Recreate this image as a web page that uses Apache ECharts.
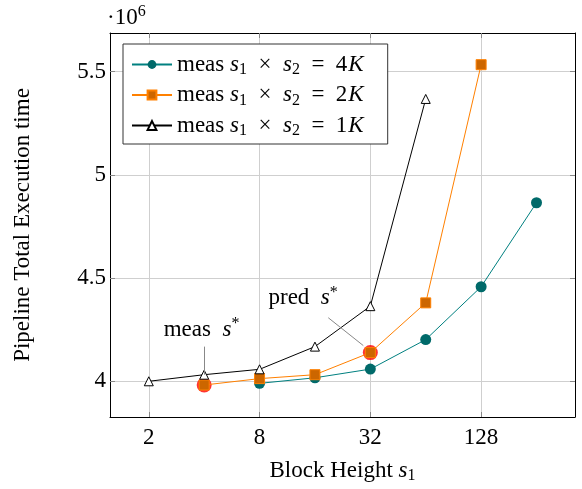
<!DOCTYPE html>
<html><head><meta charset="utf-8">
<script src="https://cdn.jsdelivr.net/npm/echarts@6/dist/echarts.min.js"></script>
<style>html,body{margin:0;padding:0;background:#fff}#c{width:582px;height:489px}</style>
</head><body><div id="c"></div>
<script>
// ---- data ----
const blockHeights4K = [8, 16, 32, 64, 128, 256];
const time4K = [3.990e6, 4.017e6, 4.059e6, 4.202e6, 4.458e6, 4.865e6];
const blockHeights2K = [4, 8, 16, 32, 64, 128];
const time2K = [3.982e6, 4.013e6, 4.032e6, 4.139e6, 4.380e6, 5.534e6];
const blockHeights1K = [2, 4, 8, 16, 32, 64];
const time1K = [4.000e6, 4.032e6, 4.058e6, 4.168e6, 4.364e6, 5.368e6];
const optimumX = [4, 32];          // meas s*, pred s*
const optimumY = [3.982e6, 4.139e6];
const xTickValues = [2, 8, 32, 128];
const yTickValues = [4.0e6, 4.5e6, 5.0e6, 5.5e6];
const seriesNames = ['4K', '2K', '1K'];
// annotation anchors (data coordinates)
const measLine = [[4, 4.168e6], [4, 4.032e6]];
const predLine = [[18.9, 4.308e6], [29.3, 4.173e6]];
const measText = [3.87, 4.25e6];
const predText = [13.8, 4.404e6];

const zip = (xs, ys) => xs.map((x, i) => [x, ys[i]]);
const FONT = 'Liberation Serif';
const FS = 23;
const rich = {
  n: {fontFamily: FONT, fontSize: FS, color: '#000'},
  i: {fontFamily: FONT, fontSize: FS, fontStyle: 'italic', color: '#000'},
  k: {fontFamily: FONT, fontSize: FS, fontStyle: 'italic', color: '#000', padding: [0, 3, 0, 1]},
  sub: {fontFamily: FONT, fontSize: 16, color: '#000', padding: [11, 0, 0, 0]},
  sup: {fontFamily: FONT, fontSize: 16, color: '#000', padding: [0, 0, 11, 0]}
};

const XMIN = 1.231, XMAX = 414.4, YMIN = 3.827e6, YMAX = 5.6875e6;
const tickStyle = {show: true, inside: true, length: 5, lineStyle: {color: '#888'}};

const chart = echarts.init(document.getElementById('c'), null, {renderer: 'canvas'});
chart.setOption({
  animation: false,
  backgroundColor: '#fff',
  grid: {left: 110, right: 7, top: 33, bottom: 69},
  xAxis: [{
    type: 'log', logBase: 2, min: XMIN, max: XMAX,
    name: '{n|Block Height }{i|s}{sub|1}', nameLocation: 'middle', nameGap: 40,
    nameTextStyle: {rich},
    axisLine: {show: true, lineStyle: {color: '#000', width: 1}},
    axisTick: Object.assign({customValues: xTickValues}, tickStyle),
    axisLabel: {customValues: xTickValues, fontFamily: FONT, fontSize: FS, color: '#000', margin: 9},
    splitLine: {show: true, lineStyle: {color: '#cfcfcf', width: 1}},
    minorTick: {show: false}
  }, {
    type: 'log', logBase: 2, min: XMIN, max: XMAX, position: 'top',
    axisLine: {show: true, lineStyle: {color: '#000', width: 1}},
    axisTick: Object.assign({customValues: xTickValues}, tickStyle),
    axisLabel: {show: false, customValues: xTickValues},
    splitLine: {show: false}
  }],
  yAxis: [{
    type: 'value', min: YMIN, max: YMAX,
    name: 'Pipeline Total Execution time', nameLocation: 'middle', nameGap: 76,
    nameTextStyle: {fontFamily: FONT, fontSize: FS, color: '#000'},
    axisLine: {show: true, lineStyle: {color: '#000', width: 1}},
    axisTick: Object.assign({customValues: yTickValues}, tickStyle),
    axisLabel: {customValues: yTickValues, fontFamily: FONT, fontSize: FS, color: '#000', margin: 4,
      formatter: v => String(+(v / 1e6).toFixed(2))},
    splitLine: {show: true, lineStyle: {color: '#cfcfcf', width: 1}}
  }, {
    type: 'value', min: YMIN, max: YMAX, position: 'right',
    axisLine: {show: true, lineStyle: {color: '#000', width: 1}},
    axisTick: Object.assign({customValues: yTickValues}, tickStyle),
    axisLabel: {show: false, customValues: yTickValues},
    splitLine: {show: false}
  }],
  legend: {
    orient: 'vertical', left: 123, top: 44, data: seriesNames,
    padding: [9, 24, 5, 8], itemGap: 5.5, itemWidth: 40, itemHeight: 11,
    borderColor: '#333', borderWidth: 1, backgroundColor: '#fff',
    formatter: n => `{n|meas }{i|s}{sub|1}{n|  ×  }{i|s}{sub|2}{n|  =  ${n.slice(0, 1)}}{k|K}`,
    textStyle: {rich}
  },
  graphic: [{
    type: 'text', left: 107, top: 4,
    style: {text: '{n|·10}{sup|6}', rich}
  }],
  series: [{
    name: 'opt', type: 'scatter', data: zip(optimumX, optimumY), z: 1,
    symbol: 'circle', symbolSize: 15, itemStyle: {color: '#ff0000'}, silent: true
  }, {
    name: '4K', type: 'line', data: zip(blockHeights4K, time4K), z: 2,
    symbol: 'circle', symbolSize: 11,
    lineStyle: {color: '#008080', width: 1}, itemStyle: {color: '#006a6a'}
  }, {
    name: '2K', type: 'line', data: zip(blockHeights2K, time2K), z: 3,
    symbol: 'rect', symbolSize: 10,
    lineStyle: {color: '#ff8000', width: 1}, itemStyle: {color: '#cc6600', borderColor: '#ff8000', borderWidth: 1},
    markLine: {
      silent: true, symbol: 'none', label: {show: false},
      lineStyle: {color: '#888', width: 1, type: 'solid'},
      data: [[{coord: measLine[0]}, {coord: measLine[1]}], [{coord: predLine[0]}, {coord: predLine[1]}]]
    },
    markPoint: {
      silent: true, symbol: 'circle', symbolSize: 1, itemStyle: {color: 'rgba(0,0,0,0)'},
      data: [
        {coord: measText, label: {show: true, position: 'inside', formatter: '{n|meas  }{i|s}{sup|*}', rich}},
        {coord: predText, label: {show: true, position: 'inside', formatter: '{n|pred  }{i|s}{sup|*}', rich}}
      ]
    }
  }, {
    name: '1K', type: 'line', data: zip(blockHeights1K, time1K), z: 4,
    symbol: 'triangle', symbolSize: 9,
    lineStyle: {color: '#000', width: 1}, itemStyle: {color: '#fff', borderColor: '#000', borderWidth: 1}
  }]
});
</script></body></html>
